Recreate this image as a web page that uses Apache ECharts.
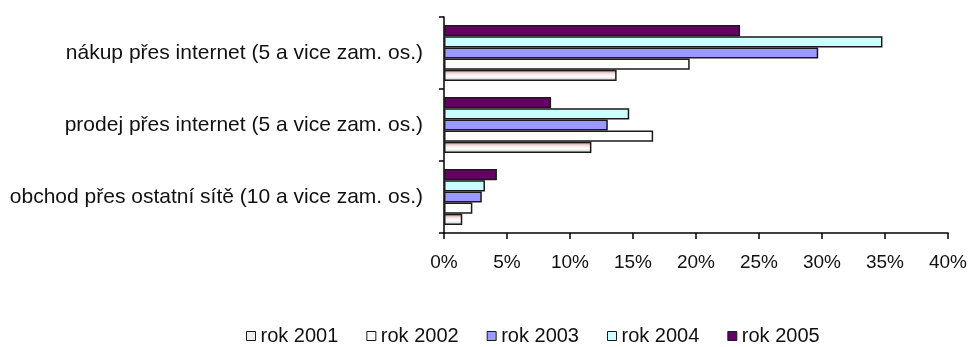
<!DOCTYPE html>
<html>
<head>
<meta charset="utf-8">
<script src="https://cdn.jsdelivr.net/npm/echarts@6/dist/echarts.min.js"></script>
<style>
  html, body { margin: 0; padding: 0; background: #fff; }
  #chart { width: 970px; height: 347px; }
</style>
</head>
<body>
<div id="chart"></div>
<script>
// Categories listed bottom to top (category axis runs upward)
const categories = [
  'obchod přes ostatní sítě (10 a vice zam. os.)',
  'prodej přes internet (5 a vice zam. os.)',
  'nákup přes internet (5 a vice zam. os.)'
];
const seriesNames = ['rok 2001', 'rok 2002', 'rok 2003', 'rok 2004', 'rok 2005'];
const rok2001 = [1.45, 11.7, 13.7];
const rok2002 = [2.25, 16.6, 19.5];
const rok2003 = [3.0, 13.0, 29.7];
const rok2004 = [3.25, 14.7, 34.8];
const rok2005 = [4.2, 8.5, 23.5];
const xTicks = { min: 0, max: 40, step: 5 };

const FONT = '"Liberation Sans", Arial, sans-serif';

const fills = [
  new echarts.graphic.LinearGradient(0, 0, 0, 1, [
    { offset: 0, color: '#b07272' },
    { offset: 0.3, color: '#f2dcdc' },
    { offset: 0.6, color: '#ffffff' },
    { offset: 1, color: '#c4c4c4' }
  ]),
  '#ffffff',
  '#9999ff',
  '#ccffff',
  '#660066'
];
const values = [rok2001, rok2002, rok2003, rok2004, rok2005];

// Horizontal bars stack their series top-down, so add 2005 first to keep 2001 at the bottom
const order = [4, 3, 2, 1, 0];
const series = order.map(i => ({
  name: seriesNames[i],
  type: 'bar',
  data: values[i],
  barGap: '0%',
  barCategoryGap: '22%',
  itemStyle: { color: fills[i], borderColor: '#1a1a1a', borderWidth: 1.5 }
}));

const chart = echarts.init(document.getElementById('chart'), null, { renderer: 'canvas' });
chart.setOption({
  animation: false,
  backgroundColor: '#ffffff',
  grid: { left: 444, right: 22, top: 17, bottom: 114, containLabel: false },
  legend: {
    top: 321,
    left: 241,
    itemWidth: 9,
    itemHeight: 9,
    itemGap: 28,
    icon: 'rect',
    textStyle: { fontFamily: FONT, fontSize: 20, color: '#111' },
    data: seriesNames.map((n, i) => ({
      name: n,
      itemStyle: { color: i === 0 ? '#eeeeee' : fills[i], borderColor: '#1a1a1a', borderWidth: 1 }
    }))
  },
  xAxis: {
    type: 'value',
    min: xTicks.min,
    max: xTicks.max,
    interval: xTicks.step,
    axisLine: { show: true, lineStyle: { color: '#000', width: 1.5 } },
    axisTick: { show: true, length: 6, lineStyle: { color: '#000', width: 1.5 } },
    splitLine: { show: false },
    axisLabel: { formatter: '{value}%', margin: 20, fontFamily: FONT, fontSize: 19, color: '#111' }
  },
  yAxis: {
    type: 'category',
    data: categories,
    axisLine: { show: true, lineStyle: { color: '#000', width: 1.5 } },
    axisTick: { show: true, length: 5, alignWithLabel: false, lineStyle: { color: '#000', width: 1.5 } },
    axisLabel: { margin: 21, fontFamily: FONT, fontSize: 21, color: '#111' }
  },
  series
});
</script>
</body>
</html>
